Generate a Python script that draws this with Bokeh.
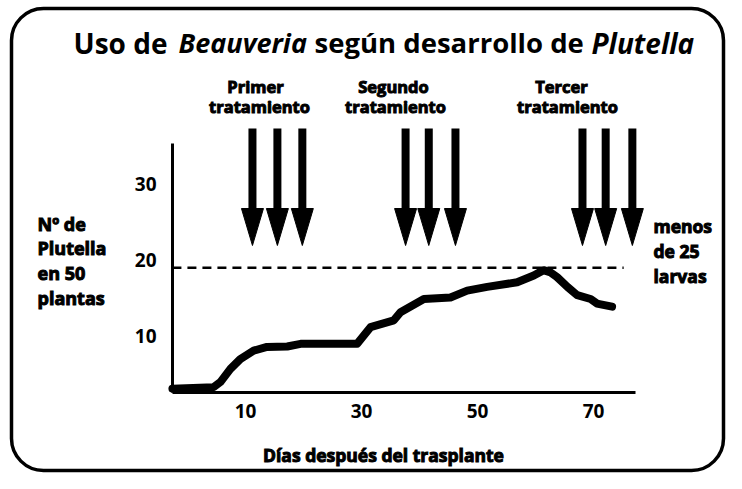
from bokeh.plotting import figure
from bokeh.models import LinearAxis, FixedTicker, BoxAnnotation
from bokeh.core.properties import value
from bokeh.embed import file_html
from bokeh.resources import INLINE

# ---------------- data ----------------
days = [-2.6, 4.5, 5.7, 7.4, 9.1, 11.4, 13.7, 17.2, 19.5, 24.0, 29.25, 30.4, 31.55,
        35.57, 36.72, 40.75, 45.34, 48.22, 51.67, 56.84, 59.7, 61.4, 62.6, 63.7,
        65.5, 67.2, 69.5, 70.6, 73.2]
larvae = [3.0, 3.2, 3.9, 5.6, 6.9, 8.0, 8.5, 8.55, 8.9, 8.9, 8.9, 10.0, 11.1,
          12.0, 13.07, 14.8, 15.0, 15.9, 16.4, 17.0, 17.9, 18.6, 18.3, 17.7,
          16.4, 15.3, 14.8, 14.2, 13.8]
threshold = 18.9
threshold_span = [-2.6, 75.2]
treatment_days = [11.2, 15.5, 19.8, 37.6, 41.6, 46.2, 68.1, 72.1, 76.7]
x_ticks = [10, 30, 50, 70]
y_ticks = [10, 20, 30]
x_axis_bounds = (-2.586, 77.2)
y_axis_bounds = (2.5, 35.3)

FONT = "Open Sans"

# pixel <-> data mapping (canvas px from top-left)
PX_X0, PX_PER_X = 187.0, 5.8
PX_Y0, PX_PER_Y = 411.0, 7.6
W, H = 726, 473


def dx(X):
    return (X - PX_X0) / PX_PER_X


def dy(Y):
    return (PX_Y0 - Y) / PX_PER_Y


p = figure(width=W, height=H,
           x_range=(dx(0), dx(W)), y_range=(dy(H), dy(0)),
           x_axis_location=None, y_axis_location=None,
           toolbar_location=None, output_backend="svg", min_border=0)
p.outline_line_color = None
p.background_fill_color = "white"
p.border_fill_color = "white"
p.grid.visible = False

# rounded frame
p.add_layout(BoxAnnotation(left=dx(11), right=dx(723), top=dy(8), bottom=dy(470),
                           fill_alpha=0, line_color="black", line_alpha=1.0,
                           line_width=3.5, border_radius=32))

# axes
yaxis = LinearAxis(fixed_location=x_axis_bounds[0], bounds=y_axis_bounds,
                   ticker=FixedTicker(ticks=y_ticks))
xaxis = LinearAxis(fixed_location=y_axis_bounds[0], bounds=x_axis_bounds,
                   ticker=FixedTicker(ticks=x_ticks))
for ax, standoff in ((yaxis, 10), (xaxis, 5)):
    ax.axis_line_width = 3
    ax.axis_line_color = "black"
    ax.major_tick_line_color = None
    ax.minor_tick_line_color = None
    ax.major_label_standoff = standoff
    ax.major_label_text_font = FONT
    ax.major_label_text_font_style = "bold"
    ax.major_label_text_font_size = "19px"
    ax.major_label_text_color = "black"
p.add_layout(yaxis, "left")
p.add_layout(xaxis, "below")

# threshold dashed line
p.line(x=threshold_span, y=[threshold, threshold], line_color="black",
       line_width=2.5, line_dash="9 6")

# curve
p.line(x=days, y=larvae, line_color="black", line_width=8,
       line_join="round", line_cap="round")

# arrows
arrow_top = dy(128)
head_base = dy(208)
tip = dy(245)
half_w = 11 / PX_PER_X
p.segment(x0=treatment_days, y0=[arrow_top] * len(treatment_days),
          x1=treatment_days, y1=[head_base - 0.3] * len(treatment_days),
          line_color="black", line_width=8, line_cap="butt")
p.patches(xs=[[d - half_w, d + half_w, d] for d in treatment_days],
          ys=[[head_base, head_base, tip] for _ in treatment_days],
          fill_color="black", line_color="black", line_width=1)


def txt(X, Y, s, size, style="bold", align="left", baseline="middle", heavy=True):
    p.text(x=[dx(X)], y=[dy(Y)], text=[s], text_font=value(FONT),
           text_font_size=f"{size}px", text_font_style=style,
           text_align=align, text_baseline=baseline, text_color="black",
           text_outline_color="black" if heavy else None)


# title
txt(73, 42, "Uso de", 28, heavy=False)
txt(178, 42, "Beauveria", 27, style="bold italic", heavy=False)
txt(314, 42, "según desarrollo de", 27.5, heavy=False)
txt(591, 42, "Plutella", 28, style="bold italic", heavy=False)

# treatment labels
for cx1, cx2, word in ((255, 259, "Primer"), (393, 395, "Segundo"), (561, 567, "Tercer")):
    txt(cx1, 86, word, 16.5, align="center")
    txt(cx2, 106, "tratamiento", 16.5, align="center")

# y label
for Y, s in ((223, "Nº de"), (247, "Plutella"), (272, "en 50"), (297, "plantas")):
    txt(37, Y, s, 18)

# right label
for Y, s in ((225, "menos"), (250, "de 25"), (275, "larvas")):
    txt(653, Y, s, 17.5)

# x label
txt(383, 454, "Días después del trasplante", 17.5, align="center")

open("out.html", "w").write(file_html(p, INLINE))
